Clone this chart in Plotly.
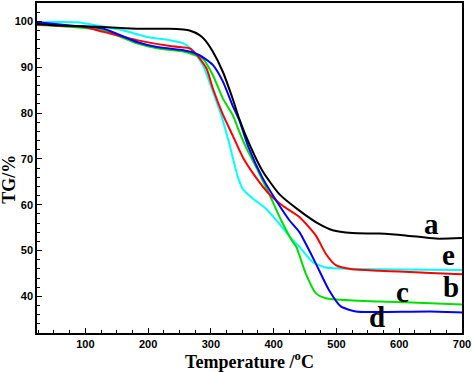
import plotly.graph_objects as go

# ---- data ----
T_a = [23, 55, 119, 182, 234, 256, 266, 282, 290, 303, 319, 335, 345, 361, 382, 409, 441, 472, 494, 525, 568, 610, 658, 700]
TG_a = [99.4, 99.1, 98.8, 98.4, 98.4, 98.2, 98.0, 97.0, 96.0, 93.4, 89.0, 83.0, 78.8, 73.3, 67.4, 62.3, 58.7, 55.8, 54.4, 53.8, 53.7, 53.3, 52.6, 52.7]

T_b = [23, 55, 97, 129, 182, 235, 256, 266, 277, 293, 303, 319, 335, 351, 372, 393, 414, 441, 467, 483, 499, 525, 568, 600, 650, 700]
TG_b = [99.3, 99.1, 98.8, 97.7, 95.9, 94.6, 94.3, 94.1, 92.8, 89.7, 85.4, 79.7, 75.0, 70.3, 65.9, 62.3, 59.8, 57.3, 53.3, 49.3, 46.8, 45.9, 45.6, 45.4, 45.1, 44.8]

T_c = [23, 55, 129, 182, 214, 256, 266, 287, 303, 319, 335, 345, 356, 375, 393, 412, 429, 436, 451, 467, 483, 525, 568, 650, 700]
TG_c = [99.2, 99.0, 98.0, 95.2, 94.1, 93.4, 93.0, 91.9, 88.3, 83.2, 79.5, 76.0, 72.5, 67.4, 62.3, 56.6, 52.2, 50.8, 45.0, 40.7, 39.6, 39.1, 38.9, 38.5, 38.2]

T_d = [23, 76, 129, 182, 214, 256, 266, 282, 303, 319, 335, 345, 360, 382, 404, 425, 441, 467, 488, 507, 531, 568, 650, 700]
TG_d = [99.8, 99.1, 98.4, 95.5, 94.4, 93.7, 93.4, 92.6, 90.5, 86.9, 81.5, 78.5, 72.5, 65.9, 60.9, 56.6, 54.0, 47.2, 41.4, 37.8, 36.7, 36.6, 36.7, 36.5]

T_e = [23, 55, 87, 119, 161, 198, 234, 256, 271, 287, 303, 316, 328, 343, 351, 367, 388, 409, 428, 441, 462, 483, 525, 568, 650, 700]
TG_e = [99.8, 99.85, 99.8, 99.1, 98.0, 96.6, 95.9, 95.2, 93.7, 90.5, 84.7, 79.7, 74.0, 66.0, 63.4, 61.3, 59.1, 55.8, 52.6, 50.8, 47.5, 46.3, 46.0, 45.9, 45.8, 45.75]

labels = ["a", "b", "c", "d", "e"]
label_T = [652, 683, 606, 565, 678]
label_TG = [55.8, 42.0, 41.0, 35.6, 49.0]

x_ticks = [100, 200, 300, 400, 500, 600, 700]
y_ticks = [40, 50, 60, 70, 80, 90, 100]

series = [
    (T_a, TG_a, "#000000"),
    (T_b, TG_b, "#ff0000"),
    (T_c, TG_c, "#00e000"),
    (T_d, TG_d, "#0000ff"),
    (T_e, TG_e, "#00ffff"),
]

fig = go.Figure()
# draw order: cyan, green, red, blue, black on top
for idx in [4, 2, 1, 3, 0]:
    xs, ys, col = series[idx]
    fig.add_trace(go.Scatter(x=xs, y=ys, mode="lines",
                             line=dict(color=col, width=2, shape="spline", smoothing=0.6),
                             showlegend=False, hoverinfo="skip"))

for lab, lx, ly in zip(labels, label_T, label_TG):
    fig.add_annotation(x=lx, y=ly, text=lab, showarrow=False,
                       font=dict(family="Liberation Serif", size=29, color="black", weight="bold"))

# y-axis title placed slightly below the plot centre, as in the reference
fig.add_annotation(x=-0.066, y=0.467, xref="paper", yref="paper", text="TG/%",
                   textangle=-90, showarrow=False, xanchor="center", yanchor="middle",
                   font=dict(family="Liberation Serif", size=18, color="black", weight="bold"))

axis_common = dict(
    showgrid=False, zeroline=False, showline=True, linecolor="black", linewidth=1.5,
    mirror=True, ticks="inside", ticklen=5, tickwidth=1, tickcolor="black",
    ticklabeloverflow="allow",
    tickfont=dict(family="Liberation Sans", size=11, color="black", weight="bold"),
)

fig.update_xaxes(range=[23, 700], tickvals=x_ticks,
                 minor=dict(dtick=25, tick0=0, ticks="inside", ticklen=3, tickcolor="black"),
                 title=dict(text="Temperature /<sup>o</sup>C", standoff=8,
                            font=dict(family="Liberation Serif", size=18, color="black", weight="bold")),
                 **axis_common)
fig.update_yaxes(range=[32, 104], tickvals=y_ticks,
                 minor=dict(dtick=2, tick0=0, ticks="inside", ticklen=3, tickcolor="black"),
                 **axis_common)

fig.update_layout(width=472, height=372, margin=dict(l=37, r=9, t=1, b=39),
                  paper_bgcolor="white", plot_bgcolor="white")

fig.write_html("out.html", config={"displayModeBar": False},
               post_script="document.body.style.margin='0';")
